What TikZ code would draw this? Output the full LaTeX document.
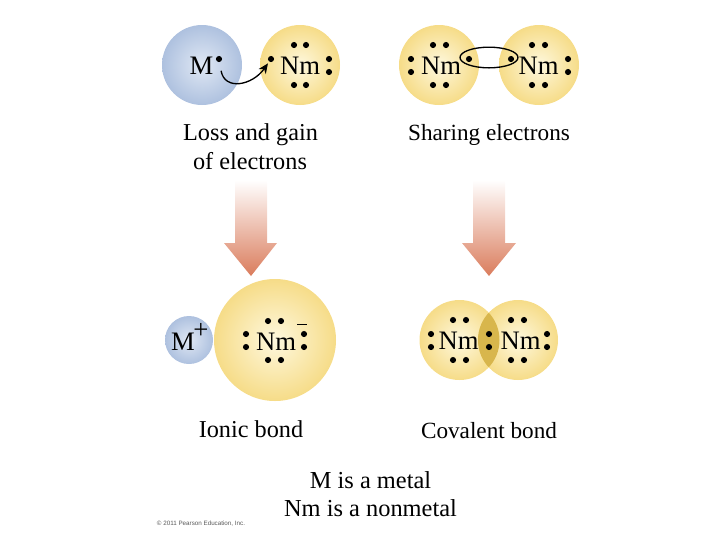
\documentclass[tikz,border=0pt]{standalone}
\usepackage{fontspec}
\setmainfont{Liberation Serif}
\newfontfamily\creditfont{Liberation Sans}
\usetikzlibrary{arrows.meta, shapes.geometric}

\definecolor{metalin}{HTML}{E0E8F4}
\definecolor{metalout}{HTML}{AEC1DF}
\definecolor{nonmetalin}{HTML}{FEF8DE}
\definecolor{nonmetalout}{HTML}{F6DC88}
\definecolor{overlapgold}{HTML}{D8B64C}
\definecolor{arrowred}{HTML}{DA7C5C}

\tikzset{
	metalatom/.style={circle, inner sep=0pt, inner color=metalin, outer color=metalout},
	nonmetalatom/.style={circle, inner sep=0pt, inner color=nonmetalin, outer color=nonmetalout, minimum size=60pt},
	sym/.style={anchor=base, inner sep=0pt, font=\fontsize{20}{24}\selectfont},
	caption/.style={anchor=base, inner sep=0pt, font=\fontsize{18.2}{22}\selectfont},
	narrowcaption/.style={anchor=base, inner sep=0pt, font=\fontsize{17.4}{21}\selectfont},
	edot/.style={circle, fill=black, inner sep=0pt, minimum size=4.6pt},
	transfer/.style={-{Stealth[length=7.5pt,width=6.5pt]}, line width=1pt, shorten <=6.5pt, shorten >=1.5pt}
}

\begin{document}
\begin{tikzpicture}[x=0.75pt, y=-0.75pt]
		\useasboundingbox (0,0) rectangle (720,540);

		% top left atoms
		\node[metalatom, minimum size=60pt] (m1) at (202,65) {};
		\node[nonmetalatom] (n1) at (300,65) {};
		\node[sym] (m1t) at (201.5,74) {M};
		\node[sym] (n1t) at (300,74) {Nm};
		\node[edot] (mdot) at (219,59) {};
		\node[edot] (n1a) at (271,59) {};
		\node[edot] (n1b) at (294,45) {}; \node[edot] (n1c) at (306,45) {};
		\node[edot] (n1d) at (294,85) {}; \node[edot] (n1e) at (306,85) {};
		\node[edot] (n1f) at (329,59) {}; \node[edot] (n1g) at (329,72) {};
		\draw[transfer] (mdot) to[out=-80,in=-125,looseness=1.5] (n1a);

		% top right atoms
		\node[nonmetalatom] (n2) at (439,65) {};
		\node[nonmetalatom] (n3) at (539,65) {};
		\node[sym] (n2t) at (441,74) {Nm};
		\node[sym] (n3t) at (538.5,74) {Nm};
		\node[edot] (n2a) at (411,59) {}; \node[edot] (n2b) at (411,72) {};
		\node[edot] (n2c) at (433,45) {}; \node[edot] (n2d) at (446,45) {};
		\node[edot] (n2e) at (433,85) {}; \node[edot] (n2f) at (446,85) {};
		\node[edot] (n2g) at (469,59) {};
		\node[edot] (n3a) at (511,59) {};
		\node[edot] (n3b) at (532,45) {}; \node[edot] (n3c) at (545,45) {};
		\node[edot] (n3d) at (532,85) {}; \node[edot] (n3e) at (545,85) {};
		\node[edot] (n3f) at (568,59) {}; \node[edot] (n3g) at (568,72) {};
		\node[draw, ellipse, line width=1pt, inner sep=0pt, minimum width=43.5pt, minimum height=15.5pt] (pair) at (489,57.5) {};

		\node[caption] (loss) at (250.5,140) {Loss and gain};
		\node[caption] (ofel) at (250,169) {of electrons};
		\node[narrowcaption] (shar) at (489,140) {Sharing electrons};

		% gradient arrows
		\shade[top color=white, bottom color=arrowred] (235,180) -- (267,180) -- (267,243) -- (277,243) -- (251,276) -- (224,243) -- (235,243) -- cycle;
		\shade[top color=white, bottom color=arrowred] (473,180) -- (505,180) -- (505,243) -- (516,243) -- (489,276) -- (462,243) -- (473,243) -- cycle;

		% ionic bond
		\node[nonmetalatom, minimum size=91.5pt] (n4) at (275,340) {};
		\node[metalatom, minimum size=36pt] (m2) at (189,340) {};
		\node[sym] (m2t) at (183,350) {M};
		\node[sym] (m2p) at (201,338) {+};
		\node[sym] (n4t) at (276,350) {Nm};
		\node[sym] (n4m) at (302,325) {\rule{7.5pt}{0.7pt}};
		\node[edot] (n4a) at (246,334) {}; \node[edot] (n4b) at (246,347) {};
		\node[edot] (n4c) at (268,321) {}; \node[edot] (n4d) at (281,321) {};
		\node[edot] (n4e) at (268,360) {}; \node[edot] (n4f) at (281,360) {};
		\node[edot] (n4g) at (304,334) {}; \node[edot] (n4h) at (304,347) {};

		% covalent bond
		\node[nonmetalatom] (n5) at (459.5,340) {};
		\node[nonmetalatom] (n6) at (518,340) {};
		\begin{scope}
			\clip (459.5,340) circle (30pt);
			\fill[overlapgold] (518,340) circle (30pt);
		\end{scope}
		\node[sym] (n5t) at (458.5,349) {Nm};
		\node[sym] (n6t) at (520.5,349) {Nm};
		\node[edot] (n5a) at (431,334) {}; \node[edot] (n5b) at (431,347) {};
		\node[edot] (n5c) at (453,320) {}; \node[edot] (n5d) at (466,320) {};
		\node[edot] (n5e) at (453,360) {}; \node[edot] (n5f) at (466,360) {};
		\node[edot] (n5g) at (489,334) {}; \node[edot] (n5h) at (489,347) {};
		\node[edot] (n6a) at (511,320) {}; \node[edot] (n6b) at (524,320) {};
		\node[edot] (n6c) at (511,360) {}; \node[edot] (n6d) at (524,360) {};
		\node[edot] (n6e) at (547,334) {}; \node[edot] (n6f) at (547,347) {};

		\node[caption] (ionic) at (251,437) {Ionic bond};
		\node[narrowcaption] (coval) at (489,438) {Covalent bond};

		\node[anchor=base, inner sep=0pt, font=\fontsize{18.3}{22}\selectfont] (key1) at (370.5,488) {M is a metal};
		\node[anchor=base, inner sep=0pt, font=\fontsize{18.3}{22}\selectfont] (key2) at (370.5,516) {Nm is a nonmetal};
		\node[anchor=base, inner sep=0pt, text=black!65, font=\creditfont\fontsize{4.7}{6}\selectfont] (credit) at (201,525) {© 2011 Pearson Education, Inc.};
	\end{tikzpicture}
\end{document}
